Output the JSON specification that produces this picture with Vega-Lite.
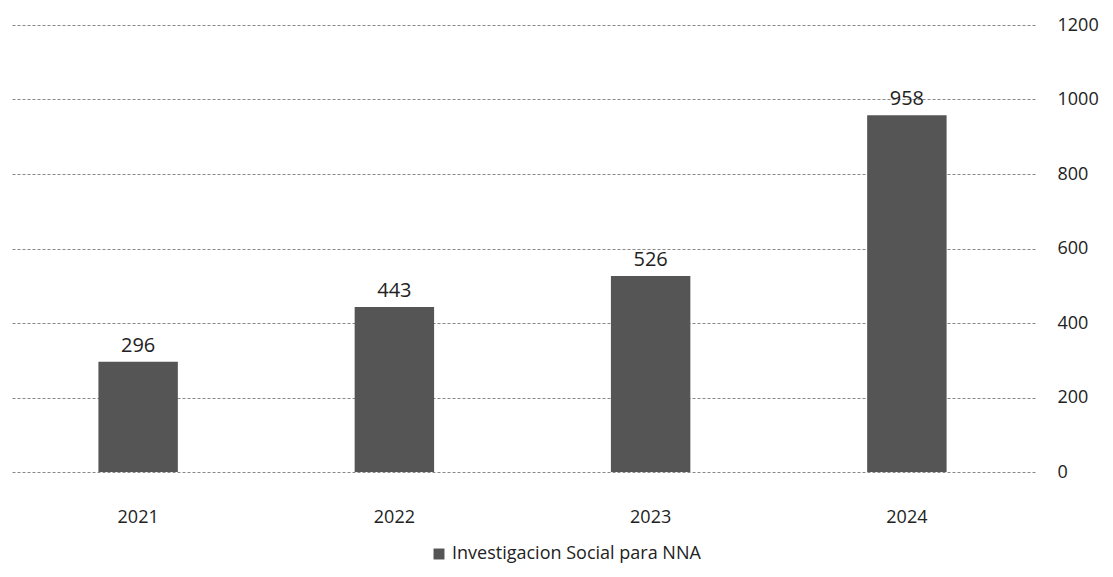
{
  "$schema": "https://vega.github.io/schema/vega-lite/v6.json",
  "autosize": "none",
  "width": 1025,
  "height": 447,
  "padding": {"left": 10, "top": 25, "right": 78, "bottom": 105},
  "background": "white",
  "config": {
    "view": {"stroke": null},
    "font": "Open Sans"
  },
  "data": {
    "values": [
      {"anio": "2021", "valor": 296, "serie": "Investigacion Social para NNA"},
      {"anio": "2022", "valor": 443, "serie": "Investigacion Social para NNA"},
      {"anio": "2023", "valor": 526, "serie": "Investigacion Social para NNA"},
      {"anio": "2024", "valor": 958, "serie": "Investigacion Social para NNA"}
    ]
  },
  "encoding": {
    "x": {
      "field": "anio",
      "type": "nominal",
      "scale": {"paddingInner": 0.69, "paddingOuter": 0.345},
      "axis": {
        "title": null,
        "labelAngle": 0,
        "labelFontSize": 18,
        "labelColor": "#222",
        "labelPadding": 36,
        "ticks": false,
        "domain": false
      }
    },
    "y": {
      "field": "valor",
      "type": "quantitative",
      "scale": {"domain": [0, 1200]},
      "axis": {
        "orient": "right",
        "title": null,
        "format": "d",
        "values": [0, 200, 400, 600, 800, 1000, 1200],
        "labelFontSize": 18,
        "labelColor": "#222",
        "labelAlign": "left",
        "labelPadding": 22,
        "ticks": false,
        "domain": false,
        "gridColor": "#888",
        "gridDash": [3, 2],
        "gridWidth": 1
      }
    }
  },
  "layer": [
    {
      "mark": {"type": "bar", "color": "#555"},
      "encoding": {
        "color": {
          "field": "serie",
          "type": "nominal",
          "scale": {"range": ["#555555"]},
          "legend": {
            "title": null,
            "orient": "none",
            "legendX": 420,
            "legendY": 520,
            "direction": "horizontal",
            "labelFontSize": 18,
            "labelColor": "#222",
            "labelLimit": 0,
            "symbolType": "square",
            "symbolSize": 120
          }
        }
      }
    },
    {
      "mark": {"type": "text", "baseline": "bottom", "dy": -6, "fontSize": 20, "color": "#222"},
      "encoding": {"text": {"field": "valor", "type": "quantitative"}}
    }
  ]
}
